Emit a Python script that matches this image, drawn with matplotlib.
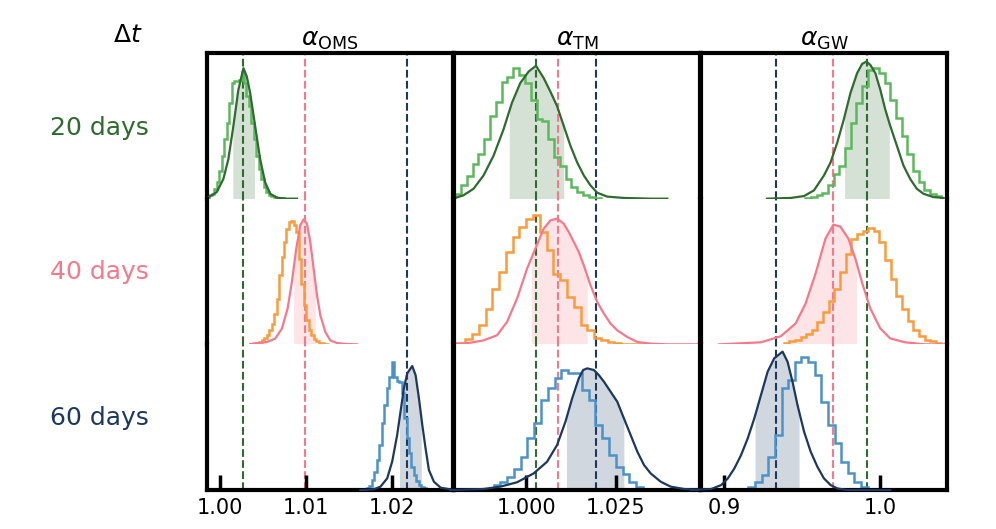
import numpy as np
import matplotlib.pyplot as plt

cols = ['OMS', 'TM', 'GW']
rows = ['20 days', '40 days', '60 days']

kde_colors = ['#2e6b2e', '#f7788a', '#1c385f']
hist_colors = ['#5cb85c', '#fa9b3c', '#4b93c7']

xlims = [(0.99848, 1.02704), (0.97978, 1.0486), (0.88513, 1.04276)]
xticks = [[1.00, 1.01, 1.02], [1.000, 1.025], [0.9, 1.0]]
tick_fmt = ['{:.2f}', '{:.3f}', '{:.1f}']

# dashed reference lines per column, in row order (20, 40, 60 days)
marks = [[1.00264, 1.00983, 1.02176],
         [1.00272, 1.00890, 1.01958],
         [0.99149, 0.96980, 0.93300]]

# ---- alpha_OMS ----
kde_x_oms20 = [0.99864, 0.99962, 1.00039, 1.00097, 1.00155, 1.00213, 1.00272, 1.00311, 1.00350,
               1.00408, 1.00466, 1.00524, 1.00583, 1.00661, 1.00777, 1.00894]
kde_y_oms20 = [0.009, 0.045, 0.136, 0.272, 0.499, 0.748, 0.896, 0.839, 0.726,
               0.499, 0.272, 0.113, 0.034, 0.007, 0.0, 0.0]
hist_oms20 = [0.023, 0.034, 0.068, 0.113, 0.193, 0.295, 0.408, 0.522, 0.658, 0.794, 0.805, 0.805,
              0.812, 0.873, 0.794, 0.703, 0.635, 0.522, 0.408, 0.295, 0.204, 0.136, 0.079, 0.045,
              0.027, 0.016, 0.011, 0.007, 0.005, 0.002]
bins_oms20 = (0.99875, 0.000288)
shade_oms20 = (1.00148, 1.00400)

kde_x_oms40 = [1.00350, 1.00544, 1.00641, 1.00719, 1.00785, 1.00835, 1.00886, 1.00932, 1.00971,
               1.01010, 1.01049, 1.01088, 1.01127, 1.01166, 1.01224, 1.01282, 1.01360, 1.01477, 1.01593]
kde_y_oms40 = [0.002, 0.016, 0.039, 0.108, 0.245, 0.428, 0.657, 0.817, 0.858,
               0.828, 0.703, 0.519, 0.336, 0.199, 0.085, 0.027, 0.009, 0.002, 0.0]
hist_oms40 = [0.002, 0.007, 0.011, 0.018, 0.027, 0.043, 0.066, 0.096, 0.142, 0.211, 0.313, 0.474,
              0.600, 0.703, 0.794, 0.840, 0.844, 0.817, 0.771, 0.588, 0.416, 0.268, 0.165, 0.096,
              0.062, 0.039, 0.021, 0.011, 0.007, 0.005, 0.002]
bins_oms40 = (1.00369, 0.000288)
shade_oms40 = (1.00855, 1.01107)

kde_x_oms60 = [1.01632, 1.01787, 1.01865, 1.01943, 1.02001, 1.02059, 1.02098, 1.02137, 1.02176,
               1.02234, 1.02273, 1.02312, 1.02351, 1.02389, 1.02428, 1.02486, 1.02564, 1.02719]
kde_y_oms60 = [0.0, 0.005, 0.023, 0.080, 0.195, 0.378, 0.538, 0.698, 0.801,
               0.851, 0.789, 0.629, 0.446, 0.286, 0.137, 0.057, 0.016, 0.0]
hist_oms60 = [0.007, 0.014, 0.030, 0.069, 0.126, 0.206, 0.309, 0.458, 0.584, 0.698, 0.778, 0.881,
              0.778, 0.748, 0.744, 0.664, 0.492, 0.355, 0.252, 0.160, 0.103, 0.062, 0.034, 0.021,
              0.011, 0.007, 0.005]
bins_oms60 = (1.01678, 0.000288)
shade_oms60 = (1.02086, 1.02339)

# ---- alpha_TM ----
kde_x_tm20 = [0.98006, 0.98239, 0.98520, 0.98801, 0.99082, 0.99362, 0.99597, 0.99831, 1.00065,
              1.00271, 1.00487, 1.00674, 1.00862, 1.01049, 1.01236, 1.01424, 1.01611, 1.01798,
              1.01986, 1.02267, 1.02733, 1.03483, 1.03951]
kde_y_tm20 = [0.005, 0.023, 0.068, 0.159, 0.295, 0.476, 0.658, 0.794, 0.873,
              0.912, 0.828, 0.735, 0.635, 0.499, 0.363, 0.249, 0.159, 0.091,
              0.041, 0.014, 0.005, 0.0, 0.0]
hist_tm20 = [0.034, 0.091, 0.159, 0.238, 0.306, 0.408, 0.567, 0.662, 0.798, 0.832, 0.896, 0.850,
             0.794, 0.680, 0.549, 0.533, 0.408, 0.283, 0.227, 0.136, 0.079, 0.045, 0.023, 0.011, 0.005]
bins_tm20 = (0.98006, 0.001629)
shade_tm20 = (0.99522, 1.01049)

kde_x_tm40 = [0.98006, 0.98427, 0.98801, 0.99177, 0.99458, 0.99739, 1.00020, 1.00253, 1.00487,
              1.00674, 1.00862, 1.01049, 1.01189, 1.01330, 1.01470, 1.01611, 1.01798, 1.01986,
              1.02173, 1.02360, 1.02548, 1.02829, 1.03110, 1.03483, 1.03951, 1.04840]
kde_y_tm40 = [0.0, 0.011, 0.027, 0.062, 0.153, 0.313, 0.519, 0.657, 0.794,
              0.851, 0.863, 0.828, 0.771, 0.703, 0.634, 0.542, 0.405, 0.291,
              0.211, 0.142, 0.096, 0.050, 0.016, 0.005, 0.0, 0.0]
hist_tm40 = [0.007, 0.011, 0.039, 0.073, 0.130, 0.245, 0.382, 0.497, 0.634, 0.737, 0.805, 0.858,
             0.886, 0.771, 0.645, 0.485, 0.439, 0.325, 0.256, 0.130, 0.096, 0.043, 0.027, 0.016,
             0.009, 0.005, 0.002, 0.002, 0.001, 0.001]
bins_tm40 = (0.97907, 0.001901)
shade_tm40 = (1.00140, 1.01705)

kde_x_tm60 = [0.97865, 0.98801, 0.99270, 0.99739, 1.00206, 1.00581, 1.00862, 1.01096, 1.01284,
              1.01470, 1.01593, 1.01705, 1.01891, 1.02031, 1.02173, 1.02360, 1.02548, 1.02733,
              1.02921, 1.03110, 1.03295, 1.03483, 1.03764, 1.04044, 1.04419, 1.04888]
kde_y_tm60 = [0.0, 0.007, 0.023, 0.053, 0.114, 0.194, 0.309, 0.469, 0.629,
              0.767, 0.824, 0.835, 0.824, 0.789, 0.744, 0.675, 0.606, 0.492,
              0.378, 0.263, 0.172, 0.114, 0.057, 0.023, 0.007, 0.0]
hist_tm60 = [0.007, 0.034, 0.053, 0.092, 0.144, 0.229, 0.355, 0.458, 0.618, 0.698, 0.767, 0.824,
             0.801, 0.801, 0.686, 0.618, 0.446, 0.355, 0.240, 0.160, 0.108, 0.057, 0.023, 0.007]
bins_tm60 = (0.98892, 0.001901)
shade_tm60 = (1.01124, 1.02733)

# ---- alpha_GW ----
kde_x_gw20 = [0.92724, 0.94256, 0.95104, 0.95742, 0.96380, 0.96808, 0.97235, 0.97656, 0.98084,
              0.98511, 0.98830, 0.99104, 0.99360, 0.99679, 0.99997, 1.00317, 1.00636, 1.01063,
              1.01484, 1.01912, 1.02339, 1.02760, 1.03398, 1.04036]
kde_y_gw20 = [0.0, 0.005, 0.018, 0.057, 0.159, 0.249, 0.385, 0.544, 0.726,
              0.862, 0.925, 0.941, 0.918, 0.862, 0.748, 0.612, 0.499, 0.363,
              0.227, 0.136, 0.068, 0.034, 0.011, 0.005]
hist_gw20 = [0.005, 0.009, 0.023, 0.041, 0.091, 0.170, 0.227, 0.351, 0.522, 0.658, 0.771, 0.880,
             0.896, 0.862, 0.794, 0.680, 0.556, 0.431, 0.306, 0.193, 0.113, 0.057, 0.034, 0.018, 0.005]
bins_gw20 = (0.95191, 0.003637)
shade_gw20 = (0.97701, 1.00572)

kde_x_gw40 = [0.89655, 0.92335, 0.93611, 0.94568, 0.95205, 0.95843, 0.96481, 0.96991, 0.97438,
              0.97949, 0.98395, 0.98842, 0.99353, 0.99991, 1.00629, 1.01586, 1.02862, 1.04138]
kde_y_gw40 = [0.0, 0.014, 0.055, 0.144, 0.281, 0.486, 0.726, 0.822, 0.808,
              0.726, 0.589, 0.418, 0.247, 0.110, 0.041, 0.014, 0.0, 0.0]
hist_gw40 = [0.01, 0.02, 0.03, 0.05, 0.07, 0.10, 0.15, 0.22, 0.30, 0.38, 0.50, 0.62, 0.72, 0.76,
             0.78, 0.80, 0.78, 0.70, 0.58, 0.45, 0.33, 0.24, 0.16, 0.10, 0.06, 0.03, 0.02, 0.01]
bins_gw40 = (0.93795, 0.003617)
shade_gw40 = (0.93924, 0.98470)

kde_x_gw60 = [0.87875, 0.89151, 0.89789, 0.90217, 0.90638, 0.91065, 0.91493, 0.91914, 0.92341,
              0.92769, 0.93190, 0.93726, 0.94045, 0.94364, 0.94683, 0.95104, 0.95531, 0.95959,
              0.96380, 0.96807, 0.97235, 0.97873, 1.00636]
kde_y_gw60 = [0.0, 0.007, 0.034, 0.080, 0.149, 0.240, 0.355, 0.492, 0.652,
              0.812, 0.904, 0.950, 0.881, 0.744, 0.584, 0.401, 0.263, 0.160,
              0.080, 0.034, 0.011, 0.0, 0.0]
hist_gw60 = [0.023, 0.053, 0.103, 0.229, 0.378, 0.698, 0.755, 0.876, 0.915, 0.876, 0.789, 0.606,
             0.446, 0.320, 0.195, 0.114, 0.057, 0.023, 0.007]
bins_gw60 = (0.91533, 0.004253)
shade_gw60 = (0.91959, 0.94785)

# table [column][row]
panels = [
    [(kde_x_oms20, kde_y_oms20, hist_oms20, bins_oms20, shade_oms20),
     (kde_x_oms40, kde_y_oms40, hist_oms40, bins_oms40, shade_oms40),
     (kde_x_oms60, kde_y_oms60, hist_oms60, bins_oms60, shade_oms60)],
    [(kde_x_tm20, kde_y_tm20, hist_tm20, bins_tm20, shade_tm20),
     (kde_x_tm40, kde_y_tm40, hist_tm40, bins_tm40, shade_tm40),
     (kde_x_tm60, kde_y_tm60, hist_tm60, bins_tm60, shade_tm60)],
    [(kde_x_gw20, kde_y_gw20, hist_gw20, bins_gw20, shade_gw20),
     (kde_x_gw40, kde_y_gw40, hist_gw40, bins_gw40, shade_gw40),
     (kde_x_gw60, kde_y_gw60, hist_gw60, bins_gw60, shade_gw60)],
]

fig, axes = plt.subplots(3, 3, figsize=(9.96, 5.29), dpi=100,
                         gridspec_kw=dict(hspace=0, wspace=0.006))
fig.subplots_adjust(left=0.2078, right=0.9508, top=0.8998, bottom=0.0737)

for j in range(3):
    for i in range(3):
        ax = axes[i][j]
        kx, ky, hv, (b0, bw), (lo, hi) = panels[j][i]
        kx = np.array(kx)
        ky = np.array(ky)
        edges = b0 + bw * np.arange(len(hv) + 1)

        # shaded interval under the kde
        inside = (kx > lo) & (kx < hi)
        fx = np.concatenate([[lo], kx[inside], [hi]])
        fy = np.interp(fx, kx, ky)
        ax.fill_between(fx, 0, fy, color=kde_colors[i], alpha=0.2, lw=0, zorder=1)

        for k in range(3):
            ax.axvline(marks[j][k], color=kde_colors[k], ls='--', lw=1.5, zorder=1.5)

        ax.stairs(hv, edges, color=hist_colors[i], lw=1.8, zorder=2)
        ax.plot(kx, ky, color=kde_colors[i], lw=1.6, zorder=3, clip_on=False)

        ax.set_xlim(*xlims[j])
        ax.set_ylim(0, 1)
        ax.set_yticks([])
        for s in ax.spines.values():
            s.set_linewidth(3)
        if i > 0:
            ax.spines['top'].set_visible(False)
        if i < 2:
            ax.spines['bottom'].set_visible(False)
            ax.set_xticks([])
        else:
            ax.set_xticks(xticks[j])
            ax.set_xticklabels([tick_fmt[j].format(t) for t in xticks[j]])
            ax.tick_params(axis='x', direction='in', length=11, width=2.5,
                           labelsize=15, pad=6)

    axes[0][j].set_title(r'$\alpha_{\rm ' + cols[j] + '}$', fontsize=18, pad=5)

row_y = [0.758, 0.485, 0.210]
for i in range(3):
    fig.text(0.1, row_y[i], rows[i], color=kde_colors[i], fontsize=18,
             ha='center', va='center')
fig.text(0.128, 0.934, r'$\Delta t$', fontsize=18, ha='center', va='center')

fig.savefig('out.png', dpi=100)
